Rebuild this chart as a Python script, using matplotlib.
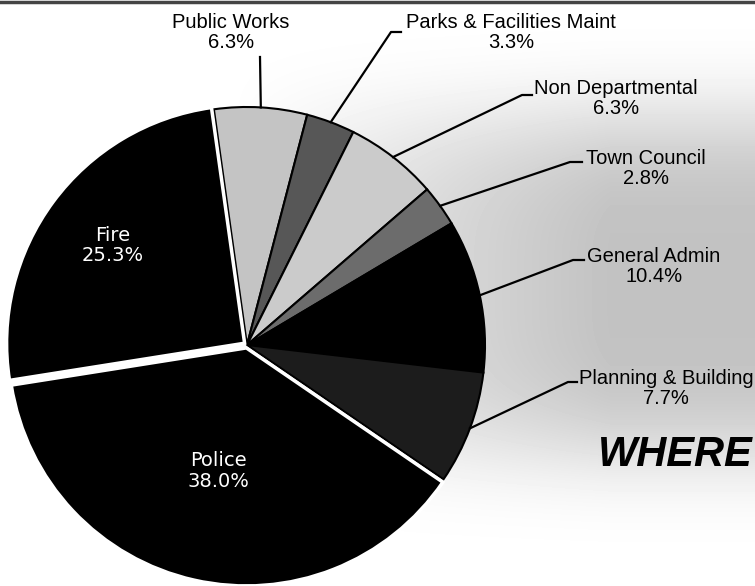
import numpy as np
import matplotlib.pyplot as plt

# budget shares, clockwise from the top
labels = ['Public Works', 'Parks & Facilities Maint', 'Non Departmental', 'Town Council',
          'General Admin', 'Planning & Building', 'Police', 'Fire']
shares = [6.3, 3.3, 6.3, 2.8, 10.4, 7.7, 38.0, 25.3]

colors = ['#c4c4c4', '#575757', '#cbcbcb', '#6c6c6c', '#000000', '#1c1c1c', '#000000', '#000000']
edges = ['black'] * 6 + ['white', 'white']
explode = [0, 0, 0, 0, 0, 0, 3, 3]

W, H = 755, 586
fig = plt.figure(figsize=(7.55, 5.86), dpi=100)
ax = fig.add_axes([0, 0, 1, 1])

# grey glow behind the pie
xx, yy = np.meshgrid(np.arange(W), np.arange(H))
horiz = np.clip((xx - 230) / 380, 0, 1)
vert = np.exp(-((yy - 285) / 180) ** 4)
bg = 1 - 0.24 * horiz ** 0.8 * vert
ax.imshow(bg, cmap='gray', vmin=0, vmax=1, extent=(0, W, 0, H), origin='upper', zorder=0)

cx, cy, r = 247, H - 345, 238
wedges, _ = ax.pie(shares, colors=colors, explode=explode, startangle=98, counterclock=False,
                   center=(cx, cy), radius=r,
                   wedgeprops=dict(edgecolor='black', linewidth=1.5))
for w, ec in zip(wedges, edges):
    w.set_edgecolor(ec)
    if ec == 'white':
        w.set_linewidth(2.5)

# labels inside the big slices
inner = {'Fire': 0.69, 'Police': 0.53}
# outside labels: text centre (image px) and leader knee / tick end
outer = {
    'Public Works': ((231, 32.5), (260, 57), None),
    'Parks & Facilities Maint': ((511, 32.5), (391, 32), (401, 32)),
    'Non Departmental': ((616, 98.5), (522, 95), (532, 95)),
    'Town Council': ((646, 168.5), (570, 162), (582, 162)),
    'General Admin': ((654, 266.5), (573, 260), (584, 260)),
    'Planning & Building': ((666, 388.5), (568, 382), (577, 382)),
}

for w, lab, val in zip(wedges, labels, shares):
    mid = np.deg2rad((w.theta1 + w.theta2) / 2)
    wx, wy = w.center
    txt = f'{lab}\n{val:.1f}%'
    if lab in inner:
        d = inner[lab] * r
        ax.text(wx + d * np.cos(mid), wy + d * np.sin(mid), txt, color='white',
                ha='center', va='center', fontsize=14, family='DejaVu Sans', linespacing=1.1)
        continue
    (tx, ty), knee, tick = outer[lab]
    ax.text(tx, H - ty, txt, ha='center', va='center', fontsize=14.5,
            family='Liberation Sans', linespacing=1.05)
    ex, ey = wx + r * np.cos(mid), wy + r * np.sin(mid)
    px = [ex, knee[0]]
    py = [ey, H - knee[1]]
    if tick:
        px.append(tick[0])
        py.append(H - tick[1])
    ax.plot(px, py, color='black', lw=1.6, zorder=3)

ax.text(598, H - 455, 'WHERE', fontsize=30, fontweight='bold', fontstyle='italic',
        family='Liberation Sans', ha='left', va='center')

ax.plot([0, W], [H - 1.5, H - 1.5], color='#444444', lw=2.5)

ax.set_xlim(0, W)
ax.set_ylim(0, H)
ax.axis('off')
fig.savefig('out.png', dpi=100)
